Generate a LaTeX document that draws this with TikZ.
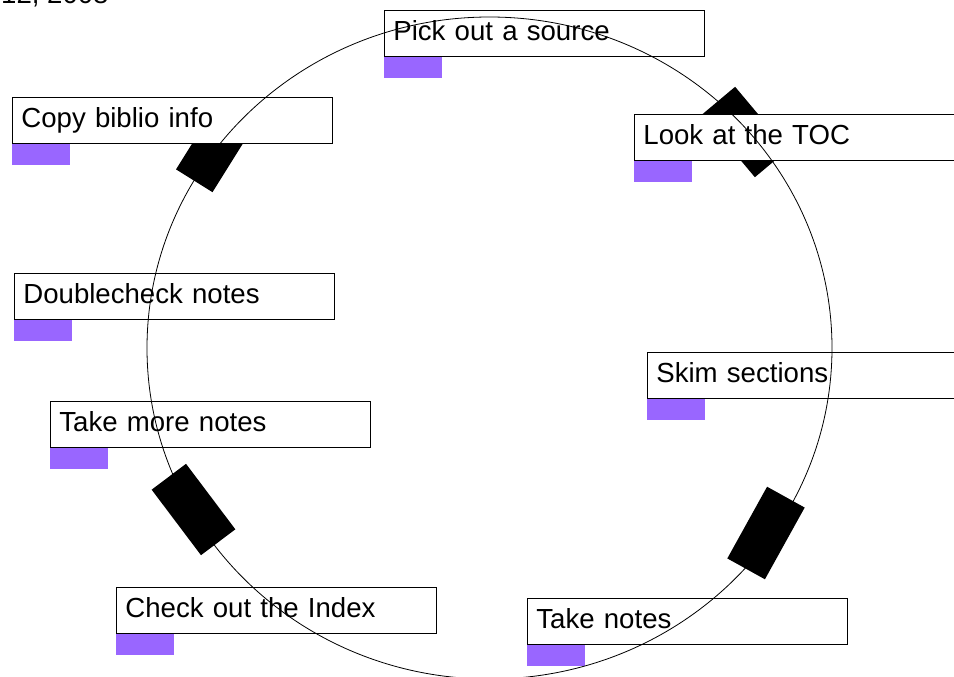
\documentclass[tikz,border=0pt]{standalone}
\usepackage{fontspec}
\setmainfont{Liberation Sans}
\usetikzlibrary{positioning}
\definecolor{tagpurple}{HTML}{9966FF}

\tikzset{
	stepbox/.style={draw,fill=white,line width=0.8pt,anchor=north west,
		text width=302pt,inner xsep=9pt,inner ysep=0pt,align=left,
		minimum height=46pt,text height=20.7pt,text depth=6.9pt},
	tagbar/.style={fill=tagpurple,minimum width=58pt,minimum height=21pt,inner sep=0pt},
	marker/.style={fill=black,minimum width=82pt,minimum height=43pt,inner sep=0pt}
}

\begin{document}
\begin{tikzpicture}[x=1pt,y=-1pt,font=\fontsize{27.6}{33}\selectfont]
		\useasboundingbox (0,0) rectangle (954,677);
		\clip (0,0) rectangle (954,677);
		% black marks on the ring
		\node[marker,rotate=130](k1) at (745,132) {};
		\node[marker,rotate=61](k2) at (766,533) {};
		\node[marker,rotate=127](k3) at (193.5,509.5) {};
		\node[marker,rotate=58](k4) at (216,146) {};
		% steps
		\node[stepbox](A) at (384,10) {Pick out a source};
		\node[stepbox](B) at (634,114) {Look at the TOC};
		\node[stepbox](C) at (647,352) {Skim sections};
		\node[stepbox](D) at (527,598) {Take notes};
		\node[stepbox](E) at (116,587) {Check out the Index};
		\node[stepbox](F) at (50,401) {Take more notes};
		\node[stepbox](G) at (14,273) {Doublecheck notes};
		\node[stepbox](H) at (12,97) {Copy biblio info};
		\foreach \s/\t in {A/a,B/b,C/c,D/d,E/e,F/f,G/g,H/h}
			\node[tagbar,below right=0pt of \s.south west](\t) {};
		% the ring
		\coordinate (O) at (489.5,348);
		\draw[line width=0.8pt] (O) ellipse [x radius=342.5,y radius=331];
		\node[anchor=base west,inner sep=0pt](date) at (1,4) {12, 2008};
	\end{tikzpicture}
\end{document}
